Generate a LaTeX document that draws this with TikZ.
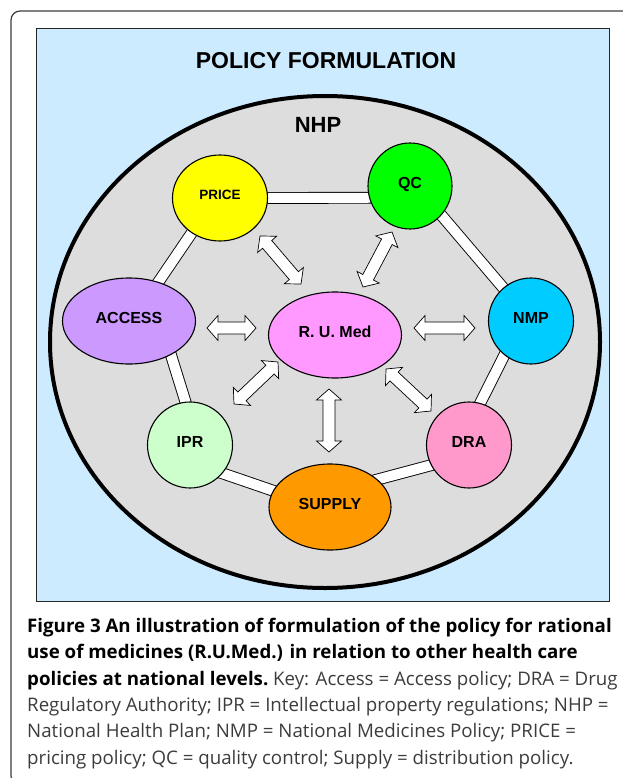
\documentclass[tikz,border=0pt]{standalone}
\usepackage{fontspec}
\setmainfont{Liberation Sans}
\newfontfamily\capfont{Open Sans}
\usetikzlibrary{shapes.geometric,calc}
\pgfdeclarelayer{bglayer}
\pgfdeclarelayer{barlayer}
\pgfsetlayers{bglayer,barlayer,main}
\definecolor{skyb}{RGB}{204,235,255}
\definecolor{nhpgray}{RGB}{221,221,221}
\definecolor{cPrice}{RGB}{255,255,0}
\definecolor{cQC}{RGB}{0,255,0}
\definecolor{cAccess}{RGB}{204,153,255}
\definecolor{cRU}{RGB}{255,153,255}
\definecolor{cNMP}{RGB}{0,204,255}
\definecolor{cIPR}{RGB}{204,255,204}
\definecolor{cDRA}{RGB}{255,153,204}
\definecolor{cSupply}{RGB}{255,153,0}
\definecolor{framec}{RGB}{60,60,60}
\definecolor{captxt}{RGB}{60,60,60}
\def\ahl{11pt}
\def\ahw{12.5pt}
\def\asw{6pt}
\newcommand\fatdbl[2]{%
  \draw[fatarrow] (#1)
   -- ($(#1)!\ahl!(#2)!\ahw!90:(#2)$) -- ($(#1)!\ahl!(#2)!\asw!90:(#2)$)
   -- ($(#2)!\ahl!(#1)!\asw!-90:(#1)$) -- ($(#2)!\ahl!(#1)!\ahw!-90:(#1)$)
   -- (#2)
   -- ($(#2)!\ahl!(#1)!\ahw!90:(#1)$) -- ($(#2)!\ahl!(#1)!\asw!90:(#1)$)
   -- ($(#1)!\ahl!(#2)!\asw!-90:(#2)$) -- ($(#1)!\ahl!(#2)!\ahw!-90:(#2)$)
   -- cycle;}
\tikzset{
  pol/.style={ellipse, draw=black, line width=1.1pt, inner sep=0pt,
    font=\bfseries\fontsize{16}{16}\selectfont, text depth=6pt, minimum height=86pt},
  bar/.style={draw=black, line width=0.9pt, double=white, double distance=10pt,
    shorten <=-6pt, shorten >=-6pt},
  fatarrow/.style={draw=black, line width=0.7pt, fill=white, line join=miter},
  captext/.style={anchor=base west, inner sep=0pt, font=\capfont\fontsize{18.7}{18.7}\selectfont},
  bigtitle/.style={font=\bfseries\fontsize{23}{23}\selectfont, inner sep=0pt},
}
\begin{document}
\begin{tikzpicture}[x=1pt,y=-1pt]
\useasboundingbox (0,0) rectangle (622,778);
\begin{pgfonlayer}{bglayer}
  \draw[framec, line width=1.2pt, rounded corners=9pt] (660,11) -- (11,11) -- (11,785) -- (660,785);
  \draw[black!85, line width=0.9pt, fill=skyb] (36,28) rectangle (609,601);
  \node[ellipse, draw=black, line width=4pt, fill=nhpgray, minimum width=550pt, minimum height=492pt, inner sep=0pt] (nhp) at (325,342) {};
\end{pgfonlayer}
\node[bigtitle] (title) at (326,61) {POLICY FORMULATION};
\node[font=\bfseries\fontsize{22}{22}\selectfont, inner sep=0pt] (nhplabel) at (318,125) {NHP};

\node[pol, fill=cPrice, minimum width=95pt, font=\bfseries\fontsize{13.5}{13.5}\selectfont] (price) at (220,198) {PRICE};
\node[pol, fill=cQC, minimum width=84pt] (qc) at (410,186) {QC};
\node[pol, fill=cAccess, minimum width=133pt] (access) at (129,321) {ACCESS};
\node[pol, fill=cRU, minimum width=133pt] (rumed) at (335,335) {R. U. Med};
\node[pol, fill=cNMP, minimum width=85pt] (nmp) at (531,321) {NMP};
\node[pol, fill=cIPR, minimum width=85pt] (ipr) at (190,445) {IPR};
\node[pol, fill=cDRA, minimum width=85pt] (dra) at (469,445) {DRA};
\node[pol, fill=cSupply, minimum width=122pt] (supply) at (330,507) {SUPPLY};

\begin{pgfonlayer}{barlayer}
  \draw[bar] (price.0) -- (qc.196);
  \draw[bar] (price.231) -- (access.53);
  \draw[bar] (qc.-43) -- (nmp.130);
  \draw[bar] (nmp.232) -- (dra.75);
  \draw[bar] (access.-39) -- (ipr.96);
  \draw[bar] (ipr.-41) -- (supply.164);
  \draw[bar] (supply.30) -- (dra.208);
\end{pgfonlayer}

\coordinate (a1s) at (260,236); \coordinate (a1e) at (301,284);
\coordinate (a2s) at (392,232); \coordinate (a2e) at (363,287);
\coordinate (a3s) at (207,328); \coordinate (a3e) at (256,328);
\coordinate (a4s) at (414,328); \coordinate (a4e) at (475,328);
\coordinate (a5s) at (234,404); \coordinate (a5e) at (278,362);
\coordinate (a6s) at (386,369); \coordinate (a6e) at (431,411);
\coordinate (a7s) at (329,389); \coordinate (a7e) at (329,452);
\fatdbl{a1s}{a1e}
\fatdbl{a2s}{a2e}
\fatdbl{a3s}{a3e}
\fatdbl{a4s}{a4e}
\fatdbl{a5s}{a5e}
\fatdbl{a6s}{a6e}
\fatdbl{a7s}{a7e}

\node[captext] (c1) at (27,632) {\bfseries Figure 3 An illustration of formulation of the policy for rational};
\node[captext] (c2) at (27,658.5) {\bfseries use of medicines (R.U.Med.) in relation to other health care};
\node[captext] (c3) at (27,685) {\bfseries policies at national levels.\ \mdseries\color{captxt}Key: Access = Access policy; DRA = Drug};
\node[captext, text=captxt] (c4) at (27,711) {Regulatory Authority; IPR = Intellectual property regulations; NHP =};
\node[captext, text=captxt] (c5) at (27,737.5) {National Health Plan; NMP = National Medicines Policy; PRICE =};
\node[captext, text=captxt] (c6) at (27,764) {pricing policy; QC = quality control; Supply = distribution policy.};
\end{tikzpicture}
\end{document}
